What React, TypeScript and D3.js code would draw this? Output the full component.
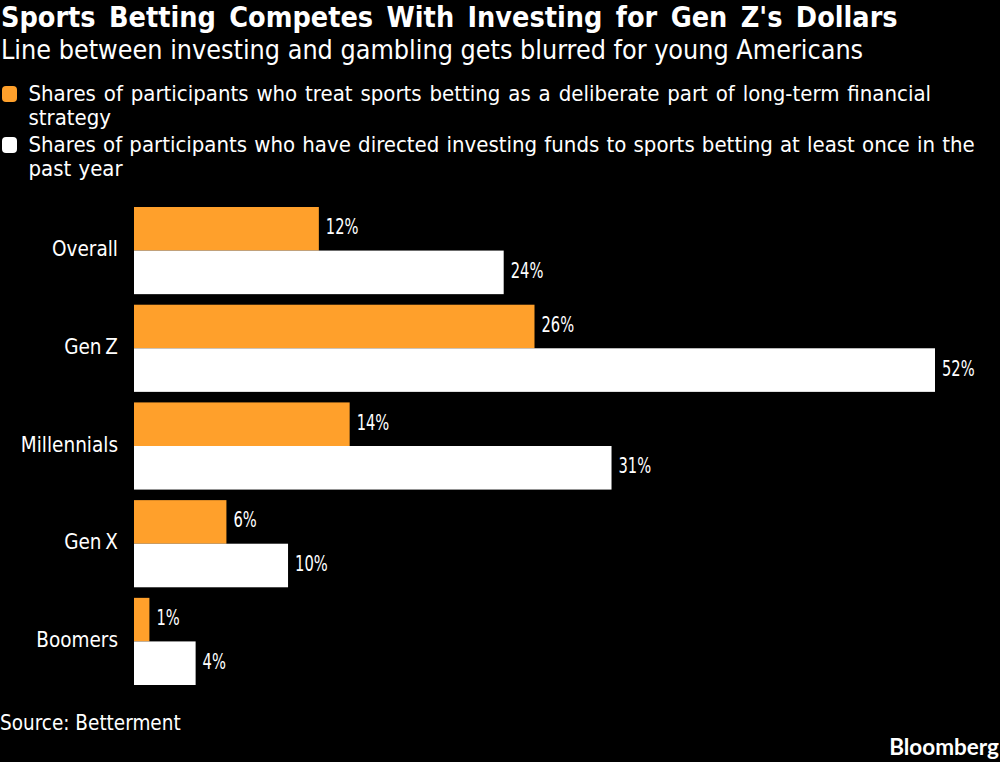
import React from "react";
import * as d3 from "d3";

const categories = ["Overall", "Gen Z", "Millennials", "Gen X", "Boomers"];
const strategyShares = [12, 26, 14, 6, 1];
const directedShares = [24, 52, 31, 10, 4];
const seriesColors = ["#ffa02b", "#ffffff"];
const legendLines = [
  ["Shares of participants who treat sports betting as a deliberate part of long-term financial", "strategy"],
  ["Shares of participants who have directed investing funds to sports betting at least once in the", "past year"],
];
const font = "'DejaVu Sans', sans-serif";

export default function App() {
  const x = d3.scaleLinear().domain([0, 52]).range([134, 935]);
  const y = d3.scaleBand().domain(categories).range([207, 685]).paddingInner(0.108).paddingOuter(0);
  const bh = y.bandwidth() / 2;
  return (
    <svg width={1000} height={762} style={{ position: "absolute", left: 0, top: 0, background: "#000" }} fontFamily={font} fontStretch="condensed" fill="#fff">
      <rect width={1000} height={762} fill="#000" />
      <text x={1} y={27} fontSize={28.5} fontWeight={700} wordSpacing={4.5}>Sports Betting Competes With Investing for Gen Z's Dollars</text>
      <text x={1} y={58.5} fontSize={26.7}>Line between investing and gambling gets blurred for young Americans</text>
      {legendLines.map((lines, i) => {
        const top = 93.5 + i * 51;
        return (
          <g key={i}>
            <rect x={2} y={top - 7.5} width={15} height={16} rx={4} fill={seriesColors[i]} />
            {lines.map((l, j) => (
              <text key={j} x={28.5} y={top + 7.5 + j * 24.2} fontSize={22} wordSpacing={i === 0 ? 1.6 : 0.9}>{l}</text>
            ))}
          </g>
        );
      })}
      {categories.map((c, i) => {
        const y0 = y(c)!;
        return (
          <g key={c}>
            <text x={118} y={y0 + bh + 5.5} fontSize={20.5} textAnchor="end" wordSpacing={-2}>{c}</text>
            {[strategyShares[i], directedShares[i]].map((v, s) => (
              <g key={s}>
                <rect x={x(0)} y={y0 + s * bh} width={x(v) - x(0)} height={bh} fill={seriesColors[s]} />
                <text transform={`translate(${x(v) + 7},${y0 + s * bh + bh / 2 + 5.5}) scale(0.76,1)`} fontSize={21.5}>{v}%</text>
              </g>
            ))}
          </g>
        );
      })}
      <text x={0} y={730} fontSize={20.5}>Source: Betterment</text>
      <text x={999} y={755} fontSize={22.5} fontWeight={700} fontFamily="Lato, sans-serif" textAnchor="end">Bloomberg</text>
    </svg>
  );
}
